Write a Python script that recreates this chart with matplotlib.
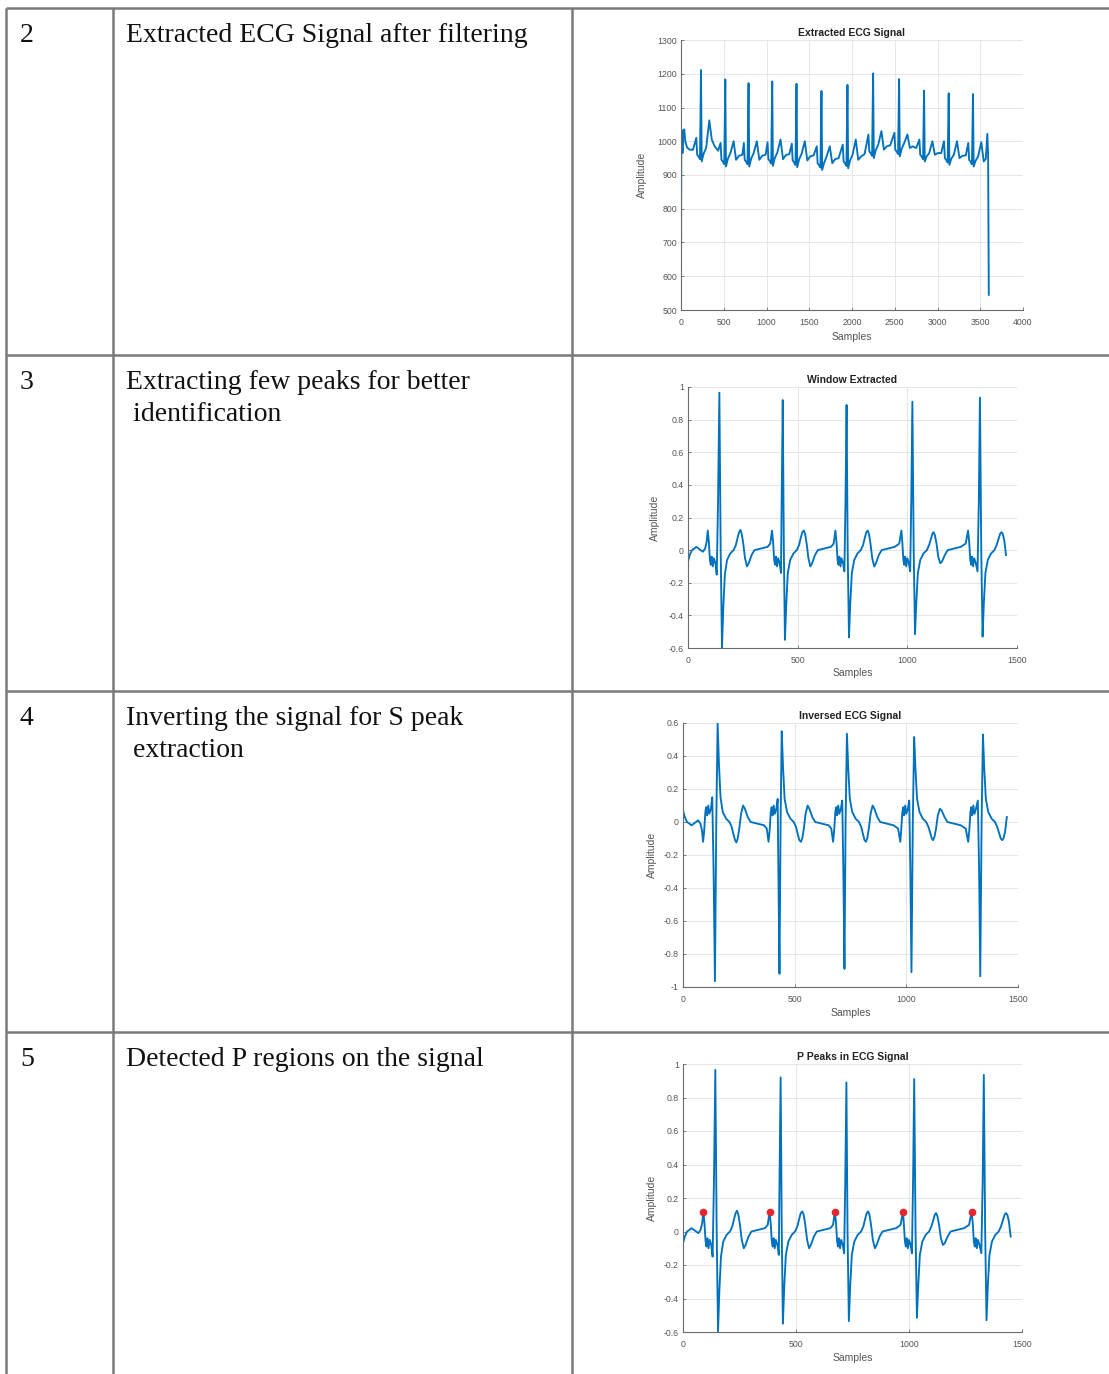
import matplotlib
matplotlib.use("Agg")
import matplotlib.pyplot as plt

plt.rcParams['axes.unicode_minus'] = False
plt.rcParams['font.family'] = ['Liberation Sans', 'DejaVu Sans']

# ---------------- table contents ----------------
step_nums = ['2', '3', '4', '5']
step_text = ['Extracted ECG Signal after filtering',
             'Extracting few peaks for better\n identification',
             'Inverting the signal for S peak\n extraction',
             'Detected P regions on the signal']
plot_titles = ['Extracted ECG Signal', 'Window Extracted',
               'Inversed ECG Signal', 'P Peaks in ECG Signal']

# ---------------- extracted (filtered) ECG, full record ----------------
ecg_x = [0, 4, 12, 18, 26, 38, 50, 70, 100, 140,
         179, 189, 204, 222, 234, 242, 264, 294, 331, 360, 394, 434,
         463, 473, 488, 506, 518, 526, 548, 578, 615, 644, 678, 718,
         735, 745, 760, 778, 790, 798, 820, 850, 887, 916, 950, 990,
         1012, 1022, 1037, 1055, 1067, 1075, 1097, 1127, 1164, 1193, 1227, 1267,
         1296, 1306, 1321, 1339, 1351, 1359, 1381, 1411, 1448, 1477, 1511, 1551,
         1588, 1598, 1613, 1631, 1643, 1651, 1673, 1703, 1740, 1769, 1803, 1843,
         1892, 1902, 1917, 1935, 1947, 1955, 1977, 2007, 2044, 2073, 2107, 2147,
         2192, 2202, 2217, 2235, 2247, 2255, 2277, 2307, 2344, 2373, 2407, 2447,
         2496, 2506, 2521, 2539, 2551, 2559, 2581, 2611, 2648, 2677, 2711, 2751,
         2788, 2798, 2813, 2831, 2843, 2851, 2873, 2903, 2940, 2969, 3003, 3043,
         3076, 3086, 3101, 3119, 3131, 3139, 3161, 3191, 3228, 3257, 3291, 3331,
         3360, 3370, 3385, 3403, 3415, 3423, 3445, 3475, 3512, 3541, 3565, 3583, 3592, 3600]
ecg_y = [545, 1035, 1015, 965, 1030, 1035, 1000, 982, 975, 975,
         1010, 960, 955, 947, 1211, 940, 963, 980, 1062, 1005, 985, 972,
         995, 945, 940, 932, 1183, 925, 948, 965, 1000, 945, 957, 960,
         995, 945, 940, 932, 1172, 925, 948, 965, 1000, 945, 957, 960,
         997, 947, 942, 934, 1177, 927, 950, 967, 1005, 947, 959, 962,
         993, 943, 938, 930, 1170, 923, 946, 963, 1000, 943, 955, 958,
         985, 935, 930, 922, 1149, 915, 935, 955, 985, 935, 947, 950,
         990, 940, 935, 927, 1167, 920, 943, 960, 1005, 945, 955, 962,
         1020, 970, 965, 957, 1201, 950, 973, 990, 1030, 975, 985, 988,
         1025, 975, 970, 962, 1184, 955, 978, 995, 1020, 980, 985, 980,
         1005, 960, 955, 947, 1150, 940, 955, 965, 1000, 960, 965, 965,
         1000, 950, 945, 937, 1142, 930, 948, 960, 1000, 950, 957, 958,
         995, 945, 940, 932, 1140, 925, 942, 955, 997, 940, 948, 1022, 960, 545]

# ---------------- window of five beats (normalised) ----------------
beat1_x = [0, 8, 18, 29, 38, 48, 58, 68, 78, 85, 90, 95, 100, 104, 108, 113, 118, 125, 131, 137,
           143, 149, 155, 161, 168, 178, 193, 208, 218, 227, 233, 239, 245, 252, 260, 269, 277, 290,
           303, 333, 363, 375]
beat1_y = [-0.07, -0.03, 0.0, 0.01, 0.02, 0.01, 0.0, -0.01, 0.01, 0.05, 0.12, 0.05, -0.06, -0.09,
           -0.04, -0.10, -0.05, -0.08, -0.15, 0.30, 0.965, 0.0, -0.596, -0.35, -0.15, -0.06, -0.02,
           0.0, 0.03, 0.08, 0.11, 0.124, 0.10, 0.04, -0.05, -0.10, -0.08, -0.03, 0.0, 0.01, 0.02, 0.04]
beat2_x = [383, 388, 393, 397, 401, 406, 411, 418, 424, 427, 432, 437, 442, 448, 455, 466, 481, 496,
           506, 515, 521, 528, 534, 541, 549, 558, 566, 579, 592, 622, 652, 664]
beat2_y = [0.12, 0.05, -0.06, -0.09, -0.04, -0.10, -0.05, -0.08, -0.14, 0.30, 0.92, 0.0, -0.55, -0.33,
           -0.14, -0.06, -0.02, 0.0, 0.03, 0.08, 0.11, 0.12, 0.10, 0.04, -0.05, -0.10, -0.08, -0.03,
           0.0, 0.01, 0.02, 0.04]
beat3_x = [672, 677, 682, 686, 690, 695, 700, 707, 713, 718, 723, 728, 734, 740, 747, 758, 773, 788,
           798, 807, 813, 819, 825, 832, 840, 849, 857, 870, 883, 913, 943, 963]
beat3_y = [0.12, 0.05, -0.06, -0.09, -0.04, -0.10, -0.05, -0.08, -0.13, 0.30, 0.89, 0.0, -0.535, -0.32,
           -0.14, -0.06, -0.02, 0.0, 0.03, 0.08, 0.11, 0.12, 0.10, 0.04, -0.05, -0.10, -0.08, -0.03,
           0.0, 0.01, 0.02, 0.04]
beat4_x = [973, 977, 982, 986, 990, 995, 1000, 1007, 1013, 1018, 1023, 1029, 1035, 1041, 1048, 1059,
           1074, 1089, 1099, 1108, 1114, 1120, 1126, 1133, 1141, 1150, 1158, 1171, 1184, 1214, 1244, 1266]
beat4_y = [0.12, 0.05, -0.06, -0.09, -0.04, -0.10, -0.05, -0.08, -0.13, 0.30, 0.91, 0.0, -0.515, -0.32,
           -0.14, -0.06, -0.02, 0.0, 0.03, 0.07, 0.10, 0.11, 0.09, 0.04, -0.04, -0.08, -0.07, -0.03,
           0.0, 0.01, 0.02, 0.04]
beat5_x = [1277, 1282, 1287, 1291, 1295, 1300, 1305, 1312, 1320, 1326, 1331, 1337, 1343, 1349, 1356,
           1367, 1382, 1397, 1407, 1416, 1423, 1429, 1435, 1442, 1450]
beat5_y = [0.12, 0.05, -0.06, -0.09, -0.04, -0.10, -0.05, -0.08, -0.13, 0.30, 0.935, 0.0, -0.53, -0.32,
           -0.14, -0.06, -0.02, 0.0, 0.03, 0.07, 0.10, 0.11, 0.10, 0.06, -0.03]

win_x = beat1_x + beat2_x + beat3_x + beat4_x + beat5_x
win_y = beat1_y + beat2_y + beat3_y + beat4_y + beat5_y
inv_y = [-v for v in win_y]          # inverted signal for S peak search

# detected P peaks
p_x = [90, 383, 672, 973, 1277]
p_y = [0.115, 0.115, 0.115, 0.115, 0.115]

# ---------------- figure / table ----------------
W, H = 1109, 1374
fig = plt.figure(figsize=(W / 100, H / 100), dpi=100)

tab = fig.add_axes([0, 0, 1, 1])
tab.set_xlim(0, W)
tab.set_ylim(H, 0)
tab.axis('off')

row_lines = [8, 355, 691, 1032]
col_lines = [6, 113, 572]
for y in row_lines:
    tab.plot([6, W], [y, y], color='#7a7a7a', lw=1.8, solid_capstyle='butt')
for x in col_lines:
    tab.plot([x, x], [8, H], color='#7a7a7a', lw=1.8, solid_capstyle='butt')

for i in range(4):
    base = row_lines[i] + 34
    tab.text(20, base, step_nums[i], fontsize=20, family='Liberation Serif',
             va='baseline', ha='left', color='#111111')
    lines = step_text[i].split('\n')
    for j, s in enumerate(lines):
        tab.text(126, base + 32 * j, s, fontsize=20, family='Liberation Serif',
                 va='baseline', ha='left', color='#111111')

blue = '#0072BD'


def px_axes(l, t, r, b):
    return fig.add_axes([l / W, 1 - b / H, (r - l) / W, (b - t) / H])


def style(ax, title, xl, xt, yl, yt, ylab_dx, xlab_dy):
    ax.set_xlim(xl)
    ax.set_ylim(yl)
    ax.set_xticks(xt)
    ax.set_yticks(yt)
    ax.set_xticklabels(['%g' % v for v in xt])
    ax.set_yticklabels(['%g' % round(v, 2) for v in yt])
    ax.grid(True, color='#e2e2e2', lw=0.6)
    ax.set_axisbelow(True)
    for s in ['top', 'right']:
        ax.spines[s].set_visible(False)
    for s in ['left', 'bottom']:
        ax.spines[s].set_color('#6a6a6a')
        ax.spines[s].set_linewidth(0.8)
    ax.tick_params(direction='in', length=2.5, width=0.6, labelsize=6.3,
                   colors='#6a6a6a', labelcolor='#555555', pad=3)
    ax.tick_params(axis='x', pad=6)
    ax.set_title(title, fontsize=7.5, fontweight='bold', pad=3, color='#222222')
    ax.set_xlabel('Samples', fontsize=7.5, color='#555555')
    ax.set_ylabel('Amplitude', fontsize=7.5, color='#555555')
    ax.yaxis.set_label_coords(ylab_dx, 0.5)
    ax.xaxis.set_label_coords(0.5, xlab_dy)


# row 2: extracted signal
ax1 = px_axes(681, 40, 1023, 310)
ax1.plot(ecg_x, ecg_y, color=blue, lw=1.35)
style(ax1, plot_titles[0], (0, 4000), list(range(0, 4001, 500)),
      (500, 1300), list(range(500, 1301, 100)), -0.099, -22 / 270)

# row 3: window
ax2 = px_axes(688, 387, 1017, 648)
ax2.plot(win_x, win_y, color=blue, lw=1.35)
yt = [-0.6, -0.4, -0.2, 0, 0.2, 0.4, 0.6, 0.8, 1]
style(ax2, plot_titles[1], (0, 1500), [0, 500, 1000, 1500],
      (-0.6, 1), yt, -0.085, -20 / 261)

# row 4: inverted
ax3 = px_axes(683, 723, 1018, 987)
ax3.plot(win_x, inv_y, color=blue, lw=1.35)
yt3 = [-1, -0.8, -0.6, -0.4, -0.2, 0, 0.2, 0.4, 0.6]
style(ax3, plot_titles[2], (0, 1500), [0, 500, 1000, 1500],
      (-1, 0.6), yt3, -0.078, -21 / 264)

# row 5: P peaks
ax4 = px_axes(683, 1064, 1022, 1332)
ax4.plot(win_x, win_y, color=blue, lw=1.35)
ax4.plot(p_x, p_y, 'o', color='#e3262f', ms=4.5, mec='#e3262f')
style(ax4, plot_titles[3], (0, 1500), [0, 500, 1000, 1500],
      (-0.6, 1), yt, -0.077, -21 / 268)

fig.savefig('out.png', dpi=100)
